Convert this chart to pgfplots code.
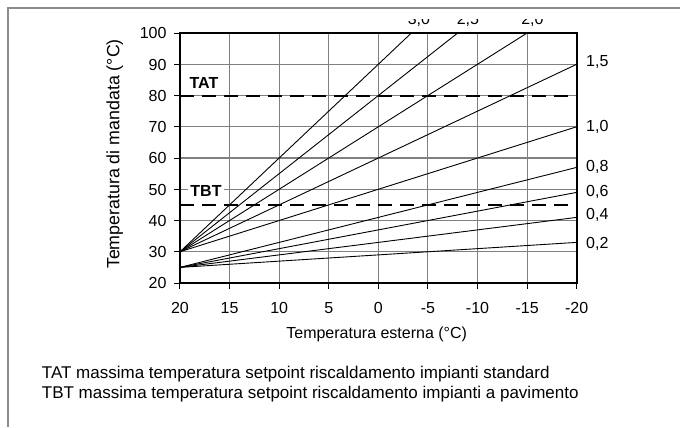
\documentclass[border=0pt]{standalone}
\usepackage{pgfplots}
\pgfplotsset{compat=1.18}
\usepackage{fontspec}
\setmainfont{Liberation Sans}
\definecolor{gridgray}{RGB}{128,128,128}
\definecolor{framegray}{RGB}{140,140,140}
\newcommand{\f}{\fontsize{16bp}{19bp}\selectfont}
\begin{document}
\begin{tikzpicture}[x=1bp,y=1bp]
\useasboundingbox (0,0) rectangle (680,-427);
\begin{axis}[
  at={(180bp,-283bp)}, anchor=south west,
  scale only axis, width=396.7bp, height=250bp,
  xmin=-20, xmax=20, ymin=20, ymax=100,
  x dir=reverse,
  xtick={-20,-15,...,20},
  xticklabels={-20,-15,-10,-5,0,5,10,15,20},
  ytick={20,30,...,100},
  yticklabels={20,30,40,50,60,70,80,90,100},
  tick align=outside, xtick pos=bottom, ytick pos=left,
  major tick length=5.7bp,
  tick style={black, line width=1bp},
  grid=major,
  major grid style={draw=gridgray, line width=1.1bp},
  axis line style={line width=1.8bp},
  xticklabel style={font=\f, inner sep=0pt, anchor=north, text height=11.5bp, text depth=0pt, yshift=-13.5bp},
  yticklabel style={font=\f, inner sep=0pt, anchor=east, text height=11.5bp, text depth=0pt, xshift=-7.6bp},
  clip=false,
]
% heating curves
\addplot[black, line width=0.9bp] coordinates {(20,30) (-3.33,100)};
\addplot[black, line width=0.9bp] coordinates {(20,30) (-8,100)};
\addplot[black, line width=0.9bp] coordinates {(20,30) (-15,100)};
\addplot[black, line width=0.9bp] coordinates {(20,30) (-20,90)};
\addplot[black, line width=0.9bp] coordinates {(20,30) (-20,70)};
\addplot[black, line width=0.9bp] coordinates {(20,25) (-20,57)};
\addplot[black, line width=0.9bp] coordinates {(20,25) (-20,49)};
\addplot[black, line width=0.9bp] coordinates {(20,25) (-20,41)};
\addplot[black, line width=0.9bp] coordinates {(20,25) (-20,33)};
% TAT / TBT limits
\addplot[black, line width=2bp, dash pattern=on 14bp off 8bp] coordinates {(20,80) (-20,80)};
\addplot[black, line width=2bp, dash pattern=on 14bp off 8bp] coordinates {(20,45) (-20,45)};
\node[font=\f\bfseries, inner sep=0pt] at (axis cs:17.58,84) {TAT};
\node[font=\f\bfseries, fill=white, inner sep=2.5bp] at (axis cs:17.38,49.6) {TBT};
% curve labels
\node[font=\f, inner sep=0pt, anchor=base west, xshift=9.3bp] at (axis cs:-20,89.3) {1,5};
\node[font=\f, inner sep=0pt, anchor=base west, xshift=9.3bp] at (axis cs:-20,68.5) {1,0};
\node[font=\f, inner sep=0pt, anchor=base west, xshift=9.3bp] at (axis cs:-20,55.7) {0,8};
\node[font=\f, inner sep=0pt, anchor=base west, xshift=9.3bp] at (axis cs:-20,47.7) {0,6};
\node[font=\f, inner sep=0pt, anchor=base west, xshift=9.3bp] at (axis cs:-20,40.2) {0,4};
\node[font=\f, inner sep=0pt, anchor=base west, xshift=9.3bp] at (axis cs:-20,31.1) {0,2};
\node[font=\f, inner sep=0pt, anchor=base] at (axis cs:-4.09,102.7) {3,0};
\node[font=\f, inner sep=0pt, anchor=base] at (axis cs:-9.03,102.7) {2,5};
\node[font=\f, inner sep=0pt, anchor=base] at (axis cs:-15.53,102.7) {2,0};
\end{axis}
% cropped top edge
\fill[white] (8.6,-8.6) rectangle (680,-19);
\draw[framegray, line width=1.2bp] (680,-8) -- (8,-8) -- (8,-427);
% axis titles
\node[font=\f, inner sep=0pt, anchor=base] at (376.7,-338.5) {Temperatura esterna (°C)};
\node[font=\fontsize{17.8bp}{21bp}\selectfont, inner sep=0pt, anchor=base, rotate=90] at (119.4,-154) {Temperatura di mandata (°C)};
% caption
\node[font=\fontsize{17bp}{20bp}\selectfont, inner sep=0pt, anchor=base west] at (41.7,-378) {TAT massima temperatura setpoint riscaldamento impianti standard};
\node[font=\fontsize{17bp}{20bp}\selectfont, inner sep=0pt, anchor=base west] at (41.7,-398.5) {TBT massima temperatura setpoint riscaldamento impianti a pavimento};
\end{tikzpicture}
\end{document}
